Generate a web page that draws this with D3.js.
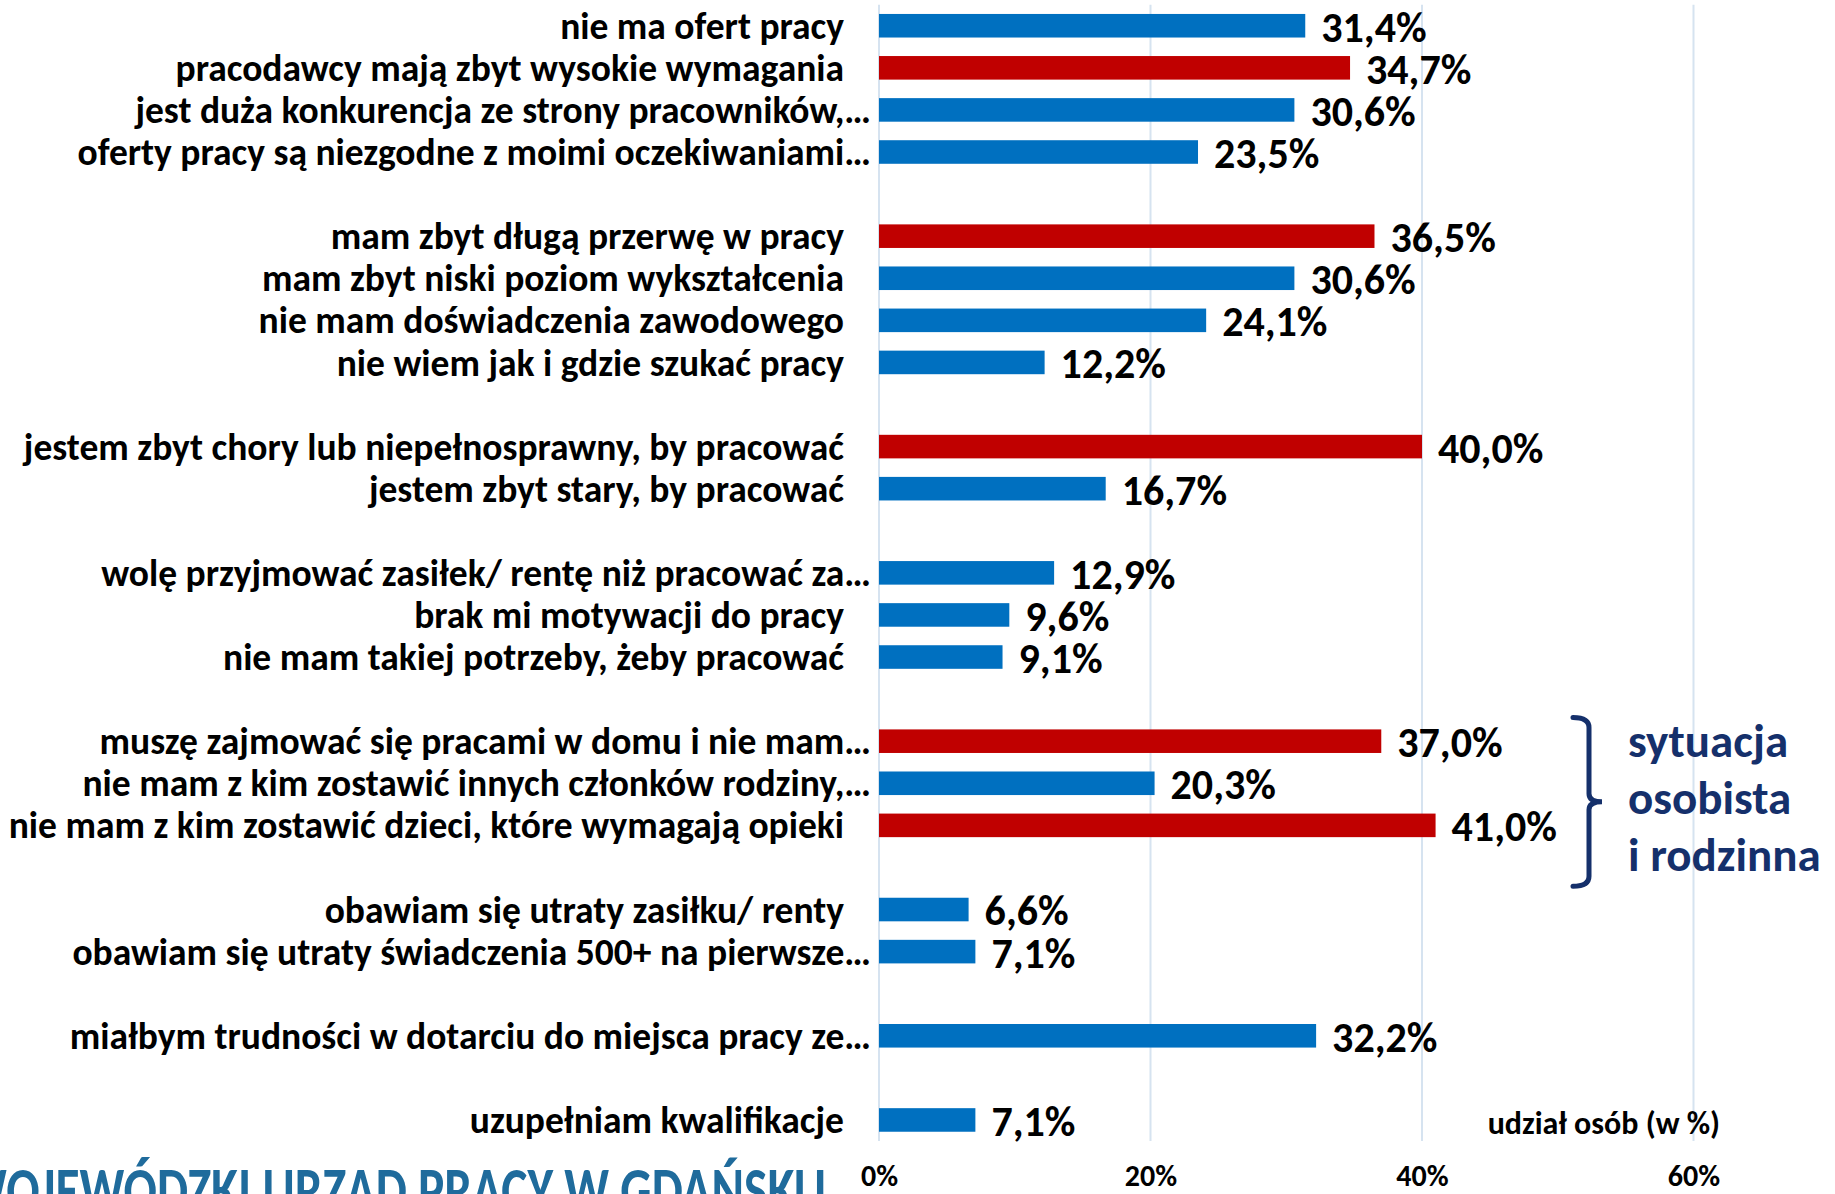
<!DOCTYPE html>
<html>
<head>
<meta charset="utf-8">
<script src="https://cdn.jsdelivr.net/npm/d3@7"></script>
<style>
  body { margin: 0; background: #fff; }
  svg { display: block; }
  text { font-family: Carlito, "Liberation Sans Narrow", Lato, "Open Sans", sans-serif; font-weight: bold; }
</style>
</head>
<body>
<div id="chart"></div>
<script>
// categories, top to bottom
const categories = [
    "nie ma ofert pracy",
    "pracodawcy mają zbyt wysokie wymagania",
    "jest duża konkurencja ze strony pracowników,…",
    "oferty pracy są niezgodne z moimi oczekiwaniami…",
    "mam zbyt długą przerwę w pracy",
    "mam zbyt niski poziom wykształcenia",
    "nie mam doświadczenia zawodowego",
    "nie wiem jak i gdzie szukać pracy",
    "jestem zbyt chory lub niepełnosprawny, by pracować",
    "jestem zbyt stary, by pracować",
    "wolę przyjmować zasiłek/ rentę niż pracować za…",
    "brak mi motywacji do pracy",
    "nie mam takiej potrzeby, żeby pracować",
    "muszę zajmować się pracami w domu i nie mam…",
    "nie mam z kim zostawić innych członków rodziny,…",
    "nie mam z kim zostawić dzieci, które wymagają opieki",
    "obawiam się utraty zasiłku/ renty",
    "obawiam się utraty świadczenia 500+ na pierwsze…",
    "miałbym trudności w dotarciu do miejsca pracy ze…",
    "uzupełniam kwalifikacje"
];
const values = [31.4, 34.7, 30.6, 23.5, 36.5, 30.6, 24.1, 12.2, 40.0, 16.7,
                12.9, 9.6, 9.1, 37.0, 20.3, 41.0, 6.6, 7.1, 32.2, 7.1];
// group number of each category (an empty row is left between groups)
const groups = [0, 0, 0, 0, 1, 1, 1, 1, 2, 2, 3, 3, 3, 4, 4, 4, 5, 5, 6, 7];
// highlighted (red) bars
const highlighted = [false, true, false, false, true, false, false, false, true, false,
                     false, false, false, true, false, true, false, false, false, false];
const xTicks = [0, 20, 40, 60];

const width = 1835, height = 1194;
const blue = "#0070c0", red = "#c00000", navy = "#15306b";

const svg = d3.select("#chart")
    .append("svg")
    .attr("width", width)
    .attr("height", height);

// slot index of each bar, counting the gaps
const slots = categories.map((c, i) => i + groups[i]);
const nSlots = d3.max(slots) + 1;

const xScale = d3.scaleLinear()
    .domain([0, 60])
    .range([879, 1693.5]);

const yScale = d3.scaleBand()
    .domain(d3.range(nSlots))
    .range([4.7, 1141])
    .paddingInner(0.44)
    .paddingOuter(0.22);

// gridlines
svg.append("g")
    .selectAll("line")
    .data(xTicks)
    .enter().append("line")
    .attr("x1", d => xScale(d))
    .attr("x2", d => xScale(d))
    .attr("y1", yScale.range()[0])
    .attr("y2", yScale.range()[1])
    .attr("stroke", "#d6e3f0")
    .attr("stroke-width", 2);

// axis tick labels
const xAxis = svg.append("g")
    .attr("transform", `translate(0,${1175})`)
    .call(d3.axisBottom(xScale).tickValues(xTicks).tickSize(0).tickFormat(d => d + "%"));
xAxis.select(".domain").remove();
xAxis.selectAll("text")
    .attr("dy", "0.35em")
    .attr("y", 0)
    .style("font-size", "30px")
    .style("font-family", "Carlito, 'Liberation Sans Narrow', Lato, 'Open Sans', sans-serif")
    .style("font-weight", "bold")
    .attr("fill", "#000");

// bars
svg.selectAll("rect.bar")
    .data(values)
    .enter().append("rect")
    .attr("class", "bar")
    .attr("x", xScale(0))
    .attr("y", (d, i) => yScale(slots[i]))
    .attr("width", d => xScale(d) - xScale(0))
    .attr("height", yScale.bandwidth())
    .attr("fill", (d, i) => highlighted[i] ? red : blue);

// value labels
svg.selectAll("text.value")
    .data(values)
    .enter().append("text")
    .attr("class", "value")
    .attr("x", d => xScale(d) + 16)
    .attr("y", (d, i) => yScale(slots[i]) + yScale.bandwidth() / 2)
    .attr("dy", "0.38em")
    .style("font-size", "42px")
    .text(d => d.toFixed(1).replace(".", ",") + "%");

// category labels (truncated ones sit closer to the axis)
svg.selectAll("text.cat")
    .data(categories)
    .enter().append("text")
    .attr("class", "cat")
    .attr("x", d => d.endsWith("…") ? xScale(0) - 8 : xScale(0) - 35)
    .attr("y", (d, i) => yScale(slots[i]) + yScale.bandwidth() / 2)
    .attr("dy", "0.35em")
    .attr("text-anchor", "end")
    .style("font-size", "37.5px")
    .text(d => d);

// axis title
svg.append("text")
    .attr("x", 1720)
    .attr("y", 1123)
    .attr("dy", "0.35em")
    .attr("text-anchor", "end")
    .style("font-size", "32px")
    .text("udział osób (w %)");

// brace around the "sytuacja osobista i rodzinna" group
const braceTop = yScale(slots[13]) - 12, braceBot = yScale(slots[15]) + yScale.bandwidth() + 49;
const braceMid = (braceTop + braceBot) / 2;
const bx = 1573, bw = 16;
svg.append("path")
    .attr("d", `M${bx},${braceTop} Q${bx + bw},${braceTop} ${bx + bw},${braceTop + 10}
                L${bx + bw},${braceMid - 8} Q${bx + bw},${braceMid} ${bx + bw + 13},${braceMid}
                Q${bx + bw},${braceMid} ${bx + bw},${braceMid + 8}
                L${bx + bw},${braceBot - 10} Q${bx + bw},${braceBot} ${bx},${braceBot}`)
    .attr("fill", "none")
    .attr("stroke", navy)
    .attr("stroke-width", 5)
    .attr("stroke-linecap", "round");

const noteLines = ["sytuacja", "osobista", "i rodzinna"];
svg.append("g")
    .selectAll("text")
    .data(noteLines)
    .enter().append("text")
    .attr("x", 1628)
    .attr("y", (d, i) => 757 + i * 57)
    .attr("fill", navy)
    .style("font-size", "47px")
    .text(d => d);

// institution name, cut by the page edge
svg.append("text")
    .attr("x", -38)
    .attr("y", 1212)
    .attr("fill", "#1f6b9c")
    .attr("textLength", 864)
    .attr("lengthAdjust", "spacingAndGlyphs")
    .style("font-size", "64px")
    .text("WOJEWÓDZKI URZĄD PRACY W GDAŃSKU");
</script>
</body>
</html>
